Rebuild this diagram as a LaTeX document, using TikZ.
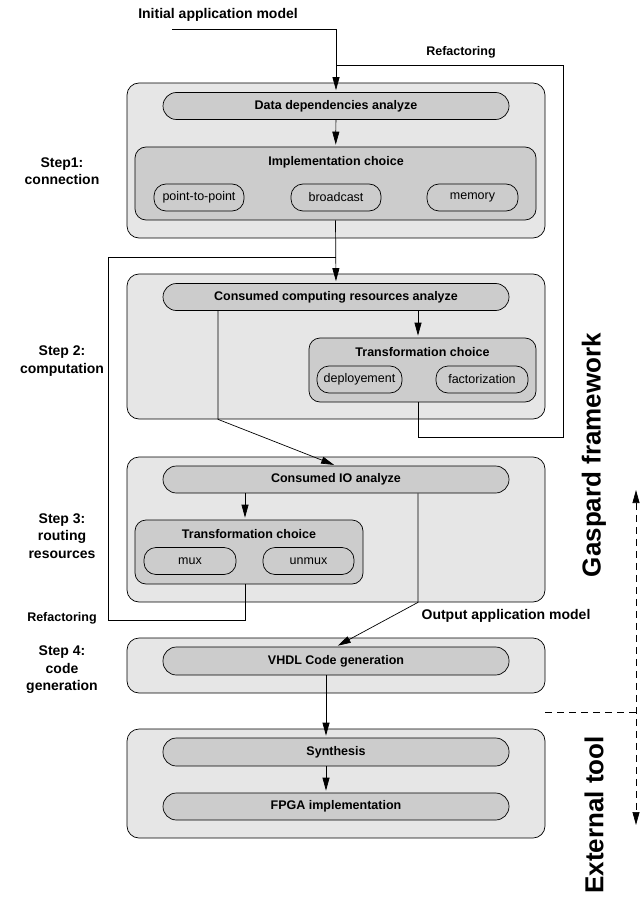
\documentclass[tikz,border=0pt]{standalone}
\usepackage{fontspec}
\setmainfont{Liberation Sans}
\usepackage{tikz}
\usetikzlibrary{arrows.meta, positioning, calc}
\definecolor{outergray}{RGB}{230, 230, 230}
\definecolor{innergray}{RGB}{204, 204, 204}

\begin{document}
\begin{tikzpicture}[
    x=1pt, y=-1pt, line width=0.7pt,
    bigbox/.style={rectangle, rounded corners=12pt, draw, fill=outergray,
                minimum width=418pt, inner sep=0pt},
    stage/.style={rectangle, rounded corners=13.5pt, draw, fill=innergray,
                minimum width=346pt, minimum height=27pt, inner sep=0pt,
                font=\fontsize{12.5}{14}\selectfont\bfseries},
    choice/.style={rectangle, rounded corners=11pt, draw, fill=innergray, inner sep=0pt},
    opt/.style={rectangle, rounded corners=12pt, draw, fill=innergray,
                minimum height=27pt, inner sep=0pt, font=\fontsize{12.5}{14}\selectfont},
    title/.style={font=\fontsize{12.5}{14}\selectfont\bfseries, inner sep=0pt},
    steplabel/.style={align=center, font=\fontsize{14}{17.5}\selectfont\bfseries},
    side/.style={rotate=90, font=\fontsize{26}{28}\selectfont\bfseries},
    arrow/.style={-{Triangle[length=13pt, width=7pt]}, shorten >=2pt}
]
\useasboundingbox (0,0) rectangle (639,901);

% step 1
\node[bigbox, minimum height=155pt] (box1) at (336,160.5) {};
\node[stage] (datadep) at (336,106) {Data dependencies analyze};
\node[choice, minimum width=401pt, minimum height=73pt] (impl) at (335.5,183.5) {};
\node[title] at (336,162) {Implementation choice};
\node[opt, minimum width=90pt] (p2p) at (199,197.5) {point-to-point};
\node[opt, minimum width=90pt] (bcast) at (336,197.5) {broadcast};
\node[opt, minimum width=91pt] (memory) at (472.5,197.5) {memory};

% step 2
\node[bigbox, minimum height=145pt] (box2) at (336,346.5) {};
\node[stage] (consumed) at (336,297) {Consumed computing resources analyze};
\node[choice, minimum width=227pt, minimum height=64pt] (trans2) at (422.5,370) {};
\node[title] at (422.5,352) {Transformation choice};
\node[opt, minimum width=85pt] (deploy) at (359.5,379.5) {deployement};
\node[opt, minimum width=92pt] (factor) at (482,379.5) {factorization};

% step 3
\node[bigbox, minimum height=145pt] (box3) at (336,529.5) {};
\node[stage] (io) at (336,479.5) {Consumed IO analyze};
\node[choice, minimum width=228pt, minimum height=64pt] (trans3) at (249,552) {};
\node[title] at (249,534) {Transformation choice};
\node[opt, minimum width=92pt] (mux) at (190,561) {mux};
\node[opt, minimum width=91pt] (unmux) at (308.5,561) {unmux};

% step 4
\node[bigbox, minimum height=55pt] (box4) at (336,665.5) {};
\node[stage, minimum height=28pt] (vhdl) at (336,661) {VHDL Code generation};

% external tool
\node[bigbox, minimum height=109pt] (box5) at (336,783.5) {};
\node[stage, minimum height=28pt] (synth) at (336,752) {Synthesis};
\node[stage] (fpga) at (336,806.5) {FPGA implementation};

% labels
\node[title, font=\fontsize{14}{16}\selectfont\bfseries] (initlbl) at (218,15) {Initial application model};
\node[title] (reflbl1) at (461,52) {Refactoring};
\node[title] (reflbl2) at (62,618) {Refactoring};
\node[title, font=\fontsize{14}{16}\selectfont\bfseries] (outlbl) at (506,616) {Output application model};
\node[steplabel] (s1) at (62,171) {Step1:\\connection};
\node[steplabel] (s2) at (62,361) {Step 2:\\computation};
\node[steplabel] (s3) at (62,536) {Step 3:\\routing\\resources};
\node[steplabel] (s4) at (62,670) {Step 4:\\code\\generation};
\node[side] (gaspard) at (594,455) {Gaspard framework};
\node[side] (external) at (594,815) {External tool};

% helper points
\coordinate (init) at (172,29);
\coordinate (refR) at (563,65);
\coordinate (refL) at (108,257);
\coordinate (t2n) at ([xshift=-4.5pt]trans2.north);
\coordinate (t2s) at ([xshift=-4.5pt]trans2.south);
\coordinate (t3n) at ([xshift=-4pt]trans3.north);
\coordinate (t3s) at ([xshift=-4pt]trans3.south);

% connectors
\draw[arrow] (init) -| (datadep.north);
\draw[arrow] (datadep) -- (impl);
\draw[arrow] (impl.south) -- (consumed.north);
\draw (t2s) -- ++(0,35) -| (refR) -- (refR -| datadep.north);
\draw[arrow] (consumed.south -| t2n) -- (t2n);
\draw[arrow] ([xshift=-118pt]consumed.south) -- ([xshift=-118pt]box2.south) -- (io.north);
\draw[arrow] (io.south -| t3n) -- (t3n);
\draw (t3s) -- ++(0,36) -| (refL) -- (refL -| consumed.north);
\draw[arrow] ([xshift=82pt]io.south) -- ([xshift=82pt]box3.south) -- (vhdl.north);
\draw[arrow] ([xshift=-10pt]vhdl.south) -- ([xshift=-10pt]synth.north);
\draw[arrow] ([xshift=-10pt]synth.south) -- ([xshift=-10pt]fpga.north);

% framework / tool border
\draw[dash pattern=on 7pt off 5pt] (box4.east |- 0,712) -- (639,712);
\draw[dash pattern=on 7pt off 5pt, {Triangle[length=13pt, width=7pt]}-{Triangle[length=13pt, width=7pt]}] (636,490) -- (636,825);
\end{tikzpicture}
\end{document}
